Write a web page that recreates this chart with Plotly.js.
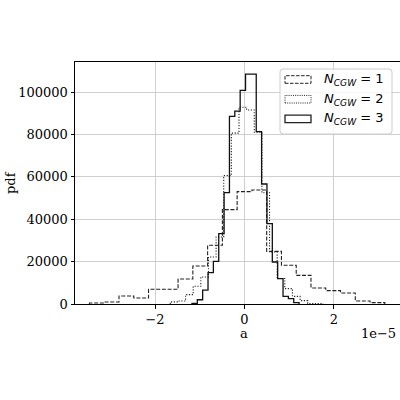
<!DOCTYPE html>
<html>
<head>
<meta charset="utf-8">
<script src="https://cdn.plot.ly/plotly-3.0.1.min.js"></script>
<style>html,body{margin:0;padding:0;background:#fff}#chart{width:400px;height:400px}</style>
</head>
<body>
<div id="chart"></div>
<script>
// Histogram heights (pdf), 20 equal bins per series
const n1Heights = [470, 950, 3800, 2850, 6950, 6950, 11800, 17900, 27700, 44500, 53000, 53800, 24800, 18250, 13500, 7550, 6300, 5200, 1400, 650];
const n2Heights = [1000, 1400, 4400, 8350, 12750, 22200, 31600, 60600, 80600, 92800, 91500, 81000, 52500, 24500, 12000, 7250, 3600, 1600, 250, 200];
const n3Heights = [300, 2000, 6500, 14800, 20100, 33200, 52500, 88500, 91000, 100800, 108400, 108400, 81300, 56600, 37900, 19800, 12000, 3600, 2500, 650];
// Data range (min, max) of each series
const n1Range = [-3.4665e-5, 3.1406e-5];
const n2Range = [-1.6585e-5, 1.757e-5];
const n3Range = [-1.1741e-5, 1.2232e-5];
const seriesNames = ['N_CGW = 1', 'N_CGW = 2', 'N_CGW = 3'];
const xTickVals = [-2e-5, 0, 2e-5];
const xTickText = ['\u22122', '0', '2'];
const yTickVals = [0, 20000, 40000, 60000, 80000, 100000];

function stepXY(range, heights) {
  const n = heights.length, w = (range[1] - range[0]) / n;
  const xs = [range[0]], ys = [0];
  for (let i = 0; i < n; i++) { xs.push(range[0] + i * w); ys.push(heights[i]); }
  xs.push(range[1]); ys.push(0);
  return {x: xs, y: ys};
}
const dashes = ['4px,1.7px', '1.2px,1.6px', 'solid'];
const traces = [[n1Range, n1Heights], [n2Range, n2Heights], [n3Range, n3Heights]].map((s, i) => {
  const p = stepXY(s[0], s[1]);
  return {type: 'scatter', mode: 'lines', x: p.x, y: p.y, name: seriesNames[i],
    line: {shape: 'hv', color: i === 2 ? '#111' : '#222', width: i === 2 ? 1.3 : 1.1, dash: dashes[i]},
    showlegend: false, hoverinfo: 'skip'};
});

// paper coordinate helpers (plot area: x 75..400px, y 62..304px)
const L = 75, R = 400, T = 62, B = 304;
const px = v => (v - L) / (R - L);
const py = v => (B - v) / (B - T);

function roundRect(x0, y0, x1, y1, r) {
  const rx = r / (R - L), ry = r / (B - T);
  const a = px(x0), b = px(x1), c = py(y0), d = py(y1);
  return `M ${a + rx},${c} L ${b - rx},${c} Q ${b},${c} ${b},${c - ry} L ${b},${d + ry} Q ${b},${d} ${b - rx},${d} L ${a + rx},${d} Q ${a},${d} ${a},${d + ry} L ${a},${c - ry} Q ${a},${c} ${a + rx},${c} Z`;
}
const shapes = [{type: 'path', xref: 'paper', yref: 'paper', path: roundRect(280, 69, 392, 134, 3),
  line: {color: '#cccccc', width: 1}, fillcolor: 'rgba(255,255,255,0.8)'}];
const annotations = [];
const rowY = [79.5, 99.2, 118.9];
const legendDash = ['3.5px,1.5px', '1px,1.2px', 'solid'];
rowY.forEach((yc, i) => {
  shapes.push({type: 'rect', xref: 'paper', yref: 'paper', x0: px(285), x1: px(311), y0: py(yc + 3.8), y1: py(yc - 3.8),
    line: {color: '#222', width: i === 2 ? 1.3 : 1, dash: legendDash[i]}, fillcolor: 'rgba(0,0,0,0)'});
  annotations.push({xref: 'paper', yref: 'paper', x: px(322), y: py(yc), xanchor: 'left', yanchor: 'middle', showarrow: false,
    text: '<i>N</i><sub><i>CGW</i></sub> = ' + (i + 1), font: {family: 'DejaVu Sans', size: 13, color: '#000'}});
});
annotations.push({xref: 'paper', yref: 'paper', x: px(244.3), y: py(333), xanchor: 'center', yanchor: 'middle', showarrow: false,
  text: 'a', font: {family: 'DejaVu Serif', size: 13, color: '#000'}});
annotations.push({xref: 'paper', yref: 'paper', x: px(10), y: py(183), xanchor: 'center', yanchor: 'middle', showarrow: false, textangle: -90,
  text: 'pdf', font: {family: 'DejaVu Serif', size: 13, color: '#000'}});
annotations.push({xref: 'paper', yref: 'paper', x: px(398), y: py(333), xanchor: 'right', yanchor: 'middle', showarrow: false,
  text: '1e\u22125', font: {family: 'DejaVu Serif', size: 13, color: '#000'}});

const layout = {
  width: 400, height: 400,
  margin: {l: L, r: 400 - R, t: T, b: 400 - B, pad: 0},
  paper_bgcolor: '#fff', plot_bgcolor: '#fff',
  font: {family: 'DejaVu Serif', size: 13, color: '#000'},
  xaxis: {range: [-3.79e-5, 3.48e-5], tickvals: xTickVals, ticktext: xTickText, ticks: 'outside', ticklen: 3.5, tickwidth: 1,
    tickcolor: '#000', showgrid: true, gridcolor: '#c4c4c4', gridwidth: 0.8, zeroline: false,
    showline: true, mirror: true, linecolor: '#000', linewidth: 1, tickfont: {family: 'DejaVu Serif', size: 13}},
  yaxis: {range: [0, 114150], tickvals: yTickVals, tickformat: 'd', ticks: 'outside', ticklen: 3.5, tickwidth: 1,
    tickcolor: '#000', showgrid: true, gridcolor: '#c4c4c4', gridwidth: 0.8, zeroline: false,
    showline: true, mirror: true, linecolor: '#000', linewidth: 1, tickfont: {family: 'DejaVu Serif', size: 13}},
  shapes: shapes, annotations: annotations, showlegend: false
};
Plotly.newPlot('chart', traces, layout, {staticPlot: true, displayModeBar: false});
</script>
</body>
</html>
